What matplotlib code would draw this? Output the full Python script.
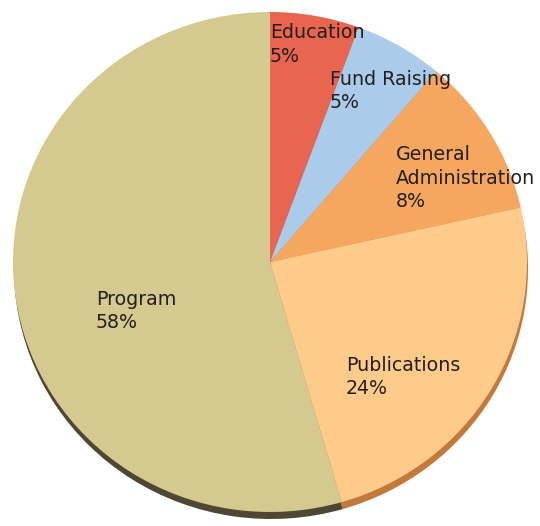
import matplotlib.pyplot as plt

# slice shares as drawn (degrees, converted to percent)
categories = ['Education', 'Fund Raising', 'General\nAdministration', 'Publications', 'Program']
shares = [5.6, 5.6, 10.3, 24.0, 54.5]
pct_labels = ['5%', '5%', '8%', '24%', '58%']

colors = ['#e8654f', '#aacbea', '#f5a75f', '#fecb8b', '#d4c98f']
shadow_colors = ['#a8402f', '#7f95ab', '#b5723a', '#c27a3c', '#4e4733']

# label anchor (top-left) in pixels of the 540x526 picture
label_pos = [(270, 23), (330, 70), (396, 145), (346, 356), (96, 290)]

W, H = 540, 526
cx, cy = 270, 262      # pie centre, picture pixels
rx, ry = 257, 250      # pie radii, pixels

fig = plt.figure(figsize=(W / 100, H / 100), dpi=100)
ax = fig.add_axes([0, 0, 1, 1])

# soft shadow under the pie
ax.pie(shares, colors=shadow_colors, startangle=90, counterclock=False,
       radius=1.0, center=(0.004, -7 / ry), frame=True,
       wedgeprops=dict(linewidth=0))
ax.pie(shares, colors=colors, startangle=90, counterclock=False,
       radius=1.0, center=(0, 0), frame=True,
       wedgeprops=dict(linewidth=0))
ax.set_aspect('auto')
ax.set_xlim(-cx / rx, (W - cx) / rx)
ax.set_ylim(-(H - cy) / ry, cy / ry)
ax.axis('off')

for name, pct, (px, py) in zip(categories, pct_labels, label_pos):
    fig.text(px / W, 1 - py / H, name + '\n' + pct, ha='left', va='top',
             fontsize=13.7, color='#231f20', linespacing=1.3,
             family='DejaVu Sans')

fig.savefig('out.png', dpi=100)
